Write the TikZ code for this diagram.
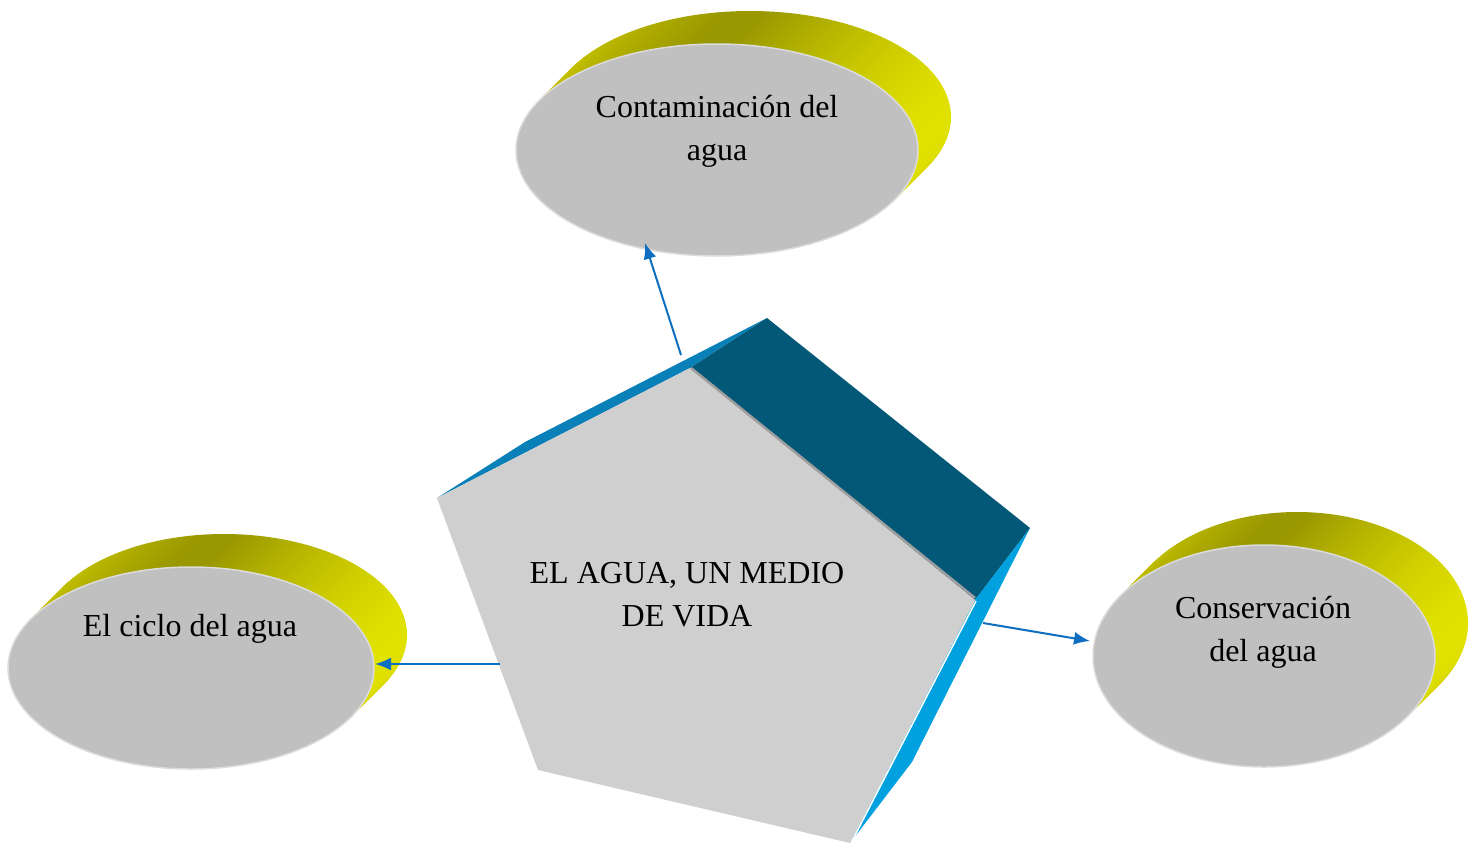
\documentclass[tikz,border=0pt]{standalone}
\usepackage{fontspec}
\setmainfont{Liberation Serif}
\usetikzlibrary{arrows.meta}
\definecolor{yl}{HTML}{CCC800}
\definecolor{ym}{HTML}{9A9800}
\definecolor{yr}{HTML}{E2E200}
\definecolor{discgray}{HTML}{C0C0C0}
\definecolor{rimgray}{HTML}{DCDCDC}
\definecolor{facegray}{HTML}{CFCFCF}
\definecolor{darkteal}{HTML}{035877}
\definecolor{midblue}{HTML}{0A80B8}
\definecolor{brightblue}{HTML}{00A1DE}
\definecolor{arrowblue}{HTML}{0E6FC1}
\pgfdeclarehorizontalshading{yelshade}{100bp}{color(0bp)=(yl); color(25bp)=(yl); color(47bp)=(ym); color(52bp)=(ym); color(75bp)=(yr); color(100bp)=(yr)}
\tikzset{
  yel/.style={shading=yelshade},
  discfront/.style={fill=discgray, draw=rimgray, line width=1.5},
  lbl/.style={font=\fontsize{32}{43}\selectfont, align=center, text=black},
  conn/.style={draw=arrowblue, line width=2, -{Latex[length=16,width=13]}}
}
\newcommand\extdisc[5]{%
  \foreach \i in {33,32,...,1}{\shade[yel] ({#1+\i},{#2-\i}) ellipse [x radius=#3, y radius=#4];}
  \path[discfront] (#1,#2) ellipse [x radius=#3, y radius=#4];
  \coordinate (#5) at (#1,#2);
}
\begin{document}
\begin{tikzpicture}[x=1pt,y=-1pt]
\useasboundingbox (0,0) rectangle (1482,844);

% discs
\extdisc{717}{150}{201}{106}{topc}
\extdisc{191}{668}{183}{101}{leftc}
\extdisc{1264}{656}{171}{111}{rightc}

% pentagon
\coordinate (pT) at (690,368);
\coordinate (pR) at (975,600);
\coordinate (pB) at (850,843);
\coordinate (pBL) at (538,770);
\coordinate (pL) at (437,498);
\coordinate (qT) at (767,318);
\coordinate (qR) at (1030,528);
\coordinate (qB) at (912,762);
\coordinate (qL) at (525,442);

\fill[midblue] (pL) -- (qL) -- (qT) -- (pT) -- cycle;
\fill[darkteal] (pT) -- (qT) -- (qR) -- (pR) -- cycle;
\fill[brightblue] (pR) -- (qR) -- (qB) -- (pB) -- cycle;
\fill[facegray] (pT) -- (pR) -- (pB) -- (pBL) -- (pL) -- cycle;
\draw[gray!75, line width=2.5] ([shift={(1,0)}]pT) -- ([shift={(0,-2)}]pR);
\draw[white, line width=1.5] ([shift={(1,1)}]pR) -- ([shift={(1,0)}]pB);

% labels
\node[lbl] (tcen) at (687,595) {EL AGUA, UN MEDIO\\DE VIDA};
\node[lbl] (ttop) at (717,131) {Contaminación del\\agua};
\node[lbl] (tleft) at (190,629) {El ciclo del agua};
\node[lbl] (tright) at (1263,632) {Conservación\\del agua};

% connectors
\coordinate (s1) at (681,355);
\coordinate (e1) at (645,243);
\coordinate (s2) at (500,664);
\coordinate (e2) at (375,664);
\coordinate (s3) at (983,623);
\coordinate (e3) at (1090,641);
\draw[conn] (s1) -- (e1);
\draw[conn] (s2) -- (e2);
\draw[conn] (s3) -- (e3);
\end{tikzpicture}
\end{document}
